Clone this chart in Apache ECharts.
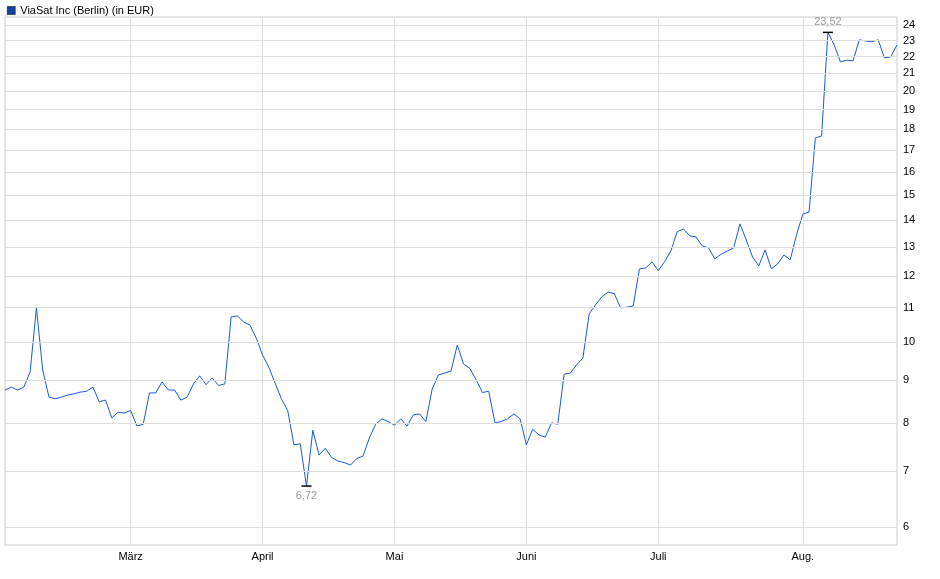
<!DOCTYPE html>
<html><head><meta charset="utf-8">
<script src="https://cdn.jsdelivr.net/npm/echarts@6/dist/echarts.min.js"></script>
<style>html,body{margin:0;padding:0;background:#fff}#c{width:940px;height:579px}</style>
</head><body><div id="c"></div>
<script>
const prices = [
8.76,8.83,8.76,8.83,9.21,10.99,9.26,8.59,8.55,8.59,8.64,8.67,8.71,8.73,8.83,8.48,8.52,8.11,8.24,8.22,8.28,7.93,7.97,8.69,8.69,8.96,8.76,8.76,8.52,8.59,8.91,9.11,8.89,9.06,8.87,8.91,10.72,10.75,10.57,10.48,10.11,
9.65,9.33,8.93,8.55,8.28,7.53,7.55,6.72,7.84,7.32,7.46,7.27,7.20,7.17,7.12,7.25,7.30,7.67,7.97,8.09,8.03,7.95,8.09,7.93,8.18,8.20,8.03,8.78,9.13,9.18,9.23,9.92,9.41,9.30,9.01,8.70,8.73,8.00,8.03,8.09,8.20,8.09,7.53,
7.86,7.74,7.69,8.00,7.97,9.15,9.18,9.39,9.57,10.81,11.08,11.33,11.48,11.43,10.99,11.01,11.05,12.24,12.27,12.48,12.18,12.48,12.86,13.56,13.67,13.41,13.37,13.04,12.97,12.58,12.75,12.86,12.97,13.86,13.26,12.65,12.34,12.90,12.24,12.41,12.72,12.55,13.44,14.24,14.32,
17.57,17.67,23.52,22.72,21.68,21.78,21.74,23.04,22.97,22.92,23.04,21.92,21.98,22.72
];
const monthLabels = {20:'März',41:'April',62:'Mai',83:'Juni',104:'Juli',127:'Aug.'};
const yTicks = [6,7,8,9,10,11,12,13,14,15,16,17,18,19,20,21,22,23,24];
const categories = prices.map((_, i) => String(i));

let minI = 0, maxI = 0;
prices.forEach((v, i) => { if (v < prices[minI]) minI = i; if (v > prices[maxI]) maxI = i; });
const fmt = v => v.toFixed(2).replace('.', ',');

const chart = echarts.init(document.getElementById('c'));
chart.setOption({
  animation: false,
  backgroundColor: '#fff',
  legend: {left: 2, top: 0, itemWidth: 8, itemHeight: 8, icon: 'rect', itemGap: 4,
    textStyle: {fontFamily: 'Liberation Sans, Arial', fontSize: 11, color: '#000'},
    data: [{name: 'ViaSat Inc (Berlin) (in EUR)', itemStyle: {color: '#1240a0', borderColor: '#000', borderWidth: 0.5}}]},
  grid: {left: 5, right: 43, top: 17, bottom: 34, show: true, borderColor: '#ccc', borderWidth: 1},
  xAxis: {type: 'category', data: categories, boundaryGap: false,
    axisLine: {show: false}, axisTick: {show: false},
    axisLabel: {interval: (i) => monthLabels[i] !== undefined, formatter: (v, i) => monthLabels[i] || '',
      fontFamily: 'Liberation Sans, Arial', fontSize: 11, color: '#000', margin: 6},
    splitLine: {show: true, interval: (i) => monthLabels[i] !== undefined, lineStyle: {color: '#ddd', width: 1}}},
  yAxis: {type: 'log', logBase: 10, min: 5.71, max: 24.54, position: 'right',
    axisLine: {show: false}, axisTick: {show: false}, axisLabel: {show: false}, splitLine: {show: false}},
  series: [{
    name: 'ViaSat Inc (Berlin) (in EUR)', type: 'line', data: prices, showSymbol: false,
    lineStyle: {color: '#1a5bd0', width: 1}, itemStyle: {color: '#1a5bd0'},
    markLine: {silent: true, symbol: 'none', animation: false,
      lineStyle: {color: '#ddd', type: 'solid', width: 1},
      label: {position: 'end', formatter: p => String(p.value), color: '#000', fontSize: 11, fontFamily: 'Liberation Sans, Arial', distance: 6},
      data: yTicks.map(t => ({yAxis: t}))},
    markPoint: {silent: true, symbol: 'rect', symbolSize: [10, 1.5], itemStyle: {color: '#000'},
      data: [
        {coord: [minI, prices[minI]], label: {show: true, formatter: fmt(prices[minI]), position: 'bottom', distance: 4, color: '#999', fontSize: 11, fontFamily: 'Liberation Sans, Arial'}},
        {coord: [maxI, prices[maxI]], label: {show: true, formatter: fmt(prices[maxI]), position: 'top', distance: 4, color: '#999', fontSize: 11, fontFamily: 'Liberation Sans, Arial'}}
      ]}
  }]
});
</script></body></html>
